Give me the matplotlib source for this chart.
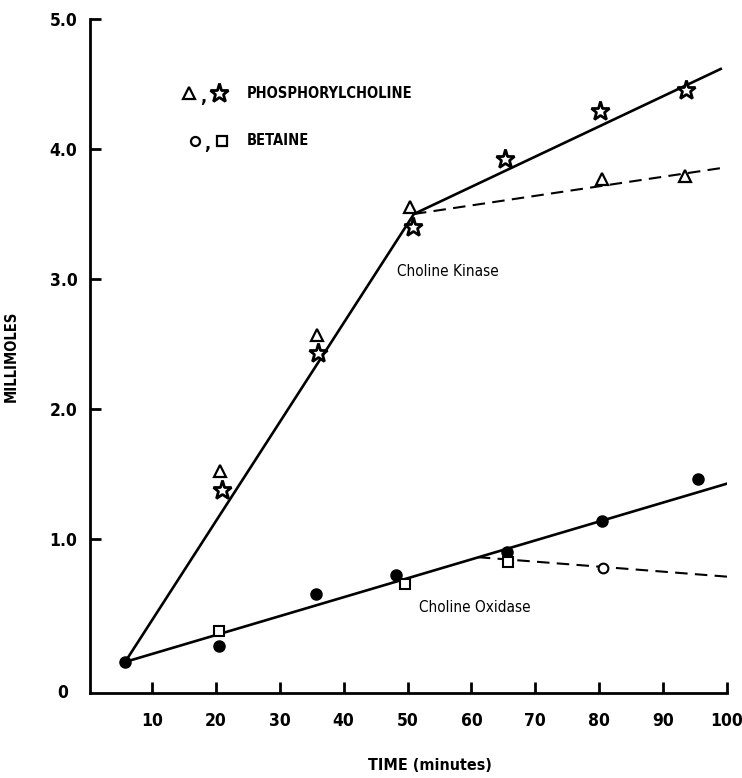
import matplotlib
matplotlib.use("Agg")
import matplotlib.pyplot as plt

# phosphorylcholine (choline kinase)
tri_t = [20.7, 35.8, 50.4, 80.4, 93.4]
tri_y = [1.52, 2.57, 3.55, 3.77, 3.79]
star_t = [21.0, 36.0, 50.8, 65.3, 80.2, 93.6]
star_y = [1.38, 2.43, 3.40, 3.92, 4.29, 4.45]

# betaine (choline oxidase)
dot_t = [5.8, 20.5, 35.7, 48.2, 65.5, 80.4, 95.5]
dot_y = [0.054, 0.18, 0.58, 0.72, 0.90, 1.14, 1.46]
sq_t = [20.5, 49.6, 65.7]
sq_y = [0.29, 0.65, 0.82]
ocirc_t = [80.6]
ocirc_y = [0.78]

# fitted lines
kin_t = [5.8, 51.0, 99.2]
kin_y = [0.054, 3.50, 4.62]
kin_dash_t = [51.0, 100.0]
kin_dash_y = [3.50, 3.86]
oxi_t = [5.8, 100.3]
oxi_y = [0.054, 1.43]
oxi_dash_t = [61.0, 100.0]
oxi_dash_y = [0.86, 0.71]

x_ticks = [10, 20, 30, 40, 50, 60, 70, 80, 90, 100]
y_ticks = [1, 2, 3, 4, 5]

plt.rcParams["font.family"] = ["DejaVu Sans"]
plt.rcParams["font.stretch"] = "condensed"

fig = plt.figure(figsize=(7.42, 7.78), dpi=100)
ax = fig.add_axes([90 / 742, 1 - 693 / 778, 637 / 742, 674 / 778])
ax.set_xlim(0.3, 100)
ax.set_ylim(-0.185, 5.0)

lw = 1.9
ax.plot(kin_t, kin_y, color="black", lw=lw, solid_capstyle="butt")
ax.plot(kin_dash_t, kin_dash_y, color="black", lw=1.5, dashes=(6, 3.5))
ax.plot(oxi_t, oxi_y, color="black", lw=lw, solid_capstyle="butt")
ax.plot(oxi_dash_t, oxi_dash_y, color="black", lw=1.5, dashes=(6, 3.5))

ax.plot(tri_t, tri_y, ls="none", marker="^", ms=9, mfc="white", mec="black", mew=1.6)
ax.plot(star_t, star_y, ls="none", marker="*", ms=14, mfc="white", mec="black", mew=2)
ax.plot(dot_t, dot_y, ls="none", marker="o", ms=8, mfc="black", mec="black")
ax.plot(sq_t, sq_y, ls="none", marker="s", ms=6.5, mfc="white", mec="black", mew=1.5)
ax.plot(ocirc_t, ocirc_y, ls="none", marker="o", ms=7, mfc="white", mec="black", mew=1.5)

# spines and ticks
for s in ["top", "right"]:
    ax.spines[s].set_visible(False)
for s in ["left", "bottom"]:
    ax.spines[s].set_linewidth(2)
ax.set_xticks(x_ticks)
ax.set_xticklabels([str(v) for v in x_ticks])
ax.set_yticks(y_ticks)
ax.set_yticklabels([f"{v:.1f}" for v in y_ticks])
ax.tick_params(direction="in", length=8, width=2, labelsize=12.5, pad=14)
ax.tick_params(axis="y", pad=9)
for lab in ax.get_xticklabels() + ax.get_yticklabels():
    lab.set_fontweight("bold")
ax.text(-0.035, 0.0, "0", transform=ax.transAxes, ha="right", va="center",
        fontsize=12.5, fontweight="bold")

ax.set_xlabel("TIME (minutes)", fontsize=11.5, fontweight="bold")
ax.xaxis.set_label_coords(0.534, -0.097)
ax.set_ylabel("MILLIMOLES", fontsize=10.5, fontweight="bold", labelpad=22)

# legend (hand laid out)
ax.plot([0.155], [0.890], transform=ax.transAxes, marker="^", ms=9,
        mfc="white", mec="black", mew=1.6, clip_on=False)
ax.text(0.178, 0.885, ",", transform=ax.transAxes, ha="center", va="center",
        fontsize=13, fontweight="bold")
ax.plot([0.2025], [0.890], transform=ax.transAxes, marker="*", ms=14,
        mfc="white", mec="black", mew=2, clip_on=False)
ax.text(0.246, 0.890, "PHOSPHORYLCHOLINE", transform=ax.transAxes,
        ha="left", va="center", fontsize=10.5, fontweight="bold")

ax.plot([0.165], [0.819], transform=ax.transAxes, marker="o", ms=6.5,
        mfc="white", mec="black", mew=1.6, clip_on=False)
ax.text(0.184, 0.814, ",", transform=ax.transAxes, ha="center", va="center",
        fontsize=13, fontweight="bold")
ax.plot([0.207], [0.819], transform=ax.transAxes, marker="s", ms=6.5,
        mfc="white", mec="black", mew=1.6, clip_on=False)
ax.text(0.246, 0.819, "BETAINE", transform=ax.transAxes,
        ha="left", va="center", fontsize=10.5, fontweight="bold")

ax.text(48.4, 3.06, "Choline Kinase", ha="left", va="center", fontsize=11)
ax.text(51.8, 0.47, "Choline Oxidase", ha="left", va="center", fontsize=11)

fig.savefig("out.png", dpi=100)
